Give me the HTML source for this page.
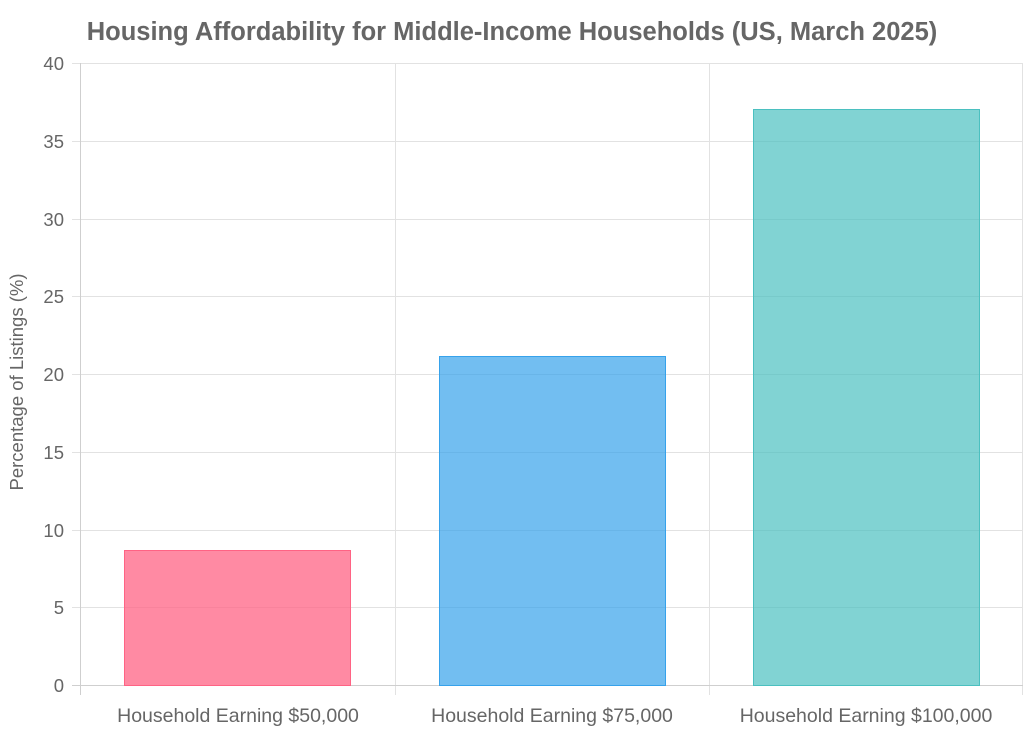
<!DOCTYPE html>
<html><head><meta charset="utf-8"><style>body{margin:0;background:#fff}svg{display:block}</style></head><body>
<svg width="1024" height="731" xmlns="http://www.w3.org/2000/svg" font-family="Liberation Sans, sans-serif">
<text x="512" y="40" text-anchor="middle" font-size="25.5" font-weight="bold" fill="#666">Housing Affordability for Middle-Income Households (US, March 2025)</text>
<g stroke="#e2e2e2" stroke-width="1">
<line x1="72" y1="63.5" x2="1023" y2="63.5"/><line x1="72" y1="141.5" x2="1023" y2="141.5"/><line x1="72" y1="219.5" x2="1023" y2="219.5"/><line x1="72" y1="296.5" x2="1023" y2="296.5"/><line x1="72" y1="374.5" x2="1023" y2="374.5"/><line x1="72" y1="452.5" x2="1023" y2="452.5"/><line x1="72" y1="530.5" x2="1023" y2="530.5"/><line x1="72" y1="607.5" x2="1023" y2="607.5"/>
<line x1="395.5" y1="63" x2="395.5" y2="695"/><line x1="709.5" y1="63" x2="709.5" y2="695"/><line x1="1022.5" y1="63" x2="1022.5" y2="695"/>
</g>
<g stroke="#cfcfcf"><line x1="72" y1="685.5" x2="1023" y2="685.5"/><line x1="80.5" y1="63" x2="80.5" y2="695"/></g>
<rect x="124.5" y="550.5" width="226" height="135" fill="rgba(255,99,132,0.75)" stroke="#ff6384"/>
<rect x="439.5" y="356.5" width="226" height="329" fill="rgba(54,162,235,0.7)" stroke="#36a2eb"/>
<rect x="753.5" y="109.5" width="226" height="576" fill="rgba(75,192,192,0.7)" stroke="#4bc0c0"/>
<g font-size="18.5" fill="#666" text-anchor="end">
<text x="64" y="70">40</text><text x="64" y="148">35</text><text x="64" y="226">30</text><text x="64" y="303">25</text><text x="64" y="381">20</text><text x="64" y="459">15</text><text x="64" y="537">10</text><text x="64" y="614">5</text><text x="64" y="692">0</text>
</g>
<g font-size="19.5" fill="#666" text-anchor="middle">
<text x="238" y="722">Household Earning $50,000</text><text x="552" y="722">Household Earning $75,000</text><text x="866" y="722">Household Earning $100,000</text>
</g>
<text transform="translate(23,382) rotate(-90)" text-anchor="middle" font-size="18.5" fill="#666">Percentage of Listings (%)</text>
</svg>
</body></html>
